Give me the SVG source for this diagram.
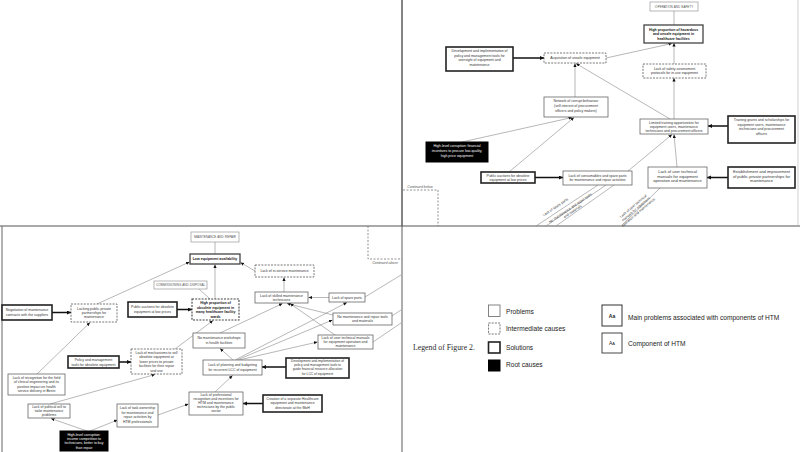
<svg xmlns="http://www.w3.org/2000/svg" width="800" height="452" viewBox="0 0 800 452">
<style>
text{font-family:"Liberation Sans",Arial,sans-serif;font-size:3.5px;fill:#333;text-anchor:middle}
.b{font-weight:bold;fill:#111}
.sc{font-variant:small-caps;font-size:3.6px;fill:#555}
.w{fill:#fff}
.it{font-style:italic;fill:#555;font-size:3.4px}
.p{fill:#fff;stroke:#666;stroke-width:0.8}
.ic{fill:#fff;stroke:#555;stroke-width:0.8;stroke-dasharray:2 1.2}
.icm{fill:#fff;stroke:#444;stroke-width:1.1;stroke-dasharray:2 1.2}
.s{fill:#fff;stroke:#222;stroke-width:1.6}
.r{fill:#000;stroke:#000}
.m{fill:#fff;stroke:#444;stroke-width:1.3}
.c{fill:#fff;stroke:#999;stroke-width:0.7}
.ln{fill:none;stroke:#888;stroke-width:0.6}
.la{fill:none;stroke:#888;stroke-width:0.6;marker-end:url(#a)}
.ta{fill:none;stroke:#111;stroke-width:1.5;marker-end:url(#ta)}
.dsh{fill:none;stroke:#777;stroke-width:0.8;stroke-dasharray:2 1.5}
.lg{font-size:6.6px;text-anchor:start;fill:#222}
.lt{font-family:"Liberation Serif","Times New Roman",serif;font-size:7.8px;text-anchor:start;fill:#2a2a2a}
</style>
<defs>
<marker id="a" markerUnits="userSpaceOnUse" markerWidth="4" markerHeight="4" refX="3.6" refY="1.6" orient="auto"><path d="M0,0 L3.6,1.6 L0,3.2 z" fill="#111"/></marker>
<marker id="ta" markerUnits="userSpaceOnUse" markerWidth="5" markerHeight="5" refX="4" refY="2" orient="auto"><path d="M0,0 L4,2 L0,4 z" fill="#111"/></marker>
</defs>

<g id="frame">
<line x1="402" y1="0" x2="402" y2="226" stroke="#333" stroke-width="1.2"/>
<line x1="402" y1="226" x2="402" y2="452" stroke="#999" stroke-width="1.6"/>
<line x1="0" y1="226" x2="800" y2="226" stroke="#555" stroke-width="1.2"/>
<line x1="2" y1="226" x2="2" y2="452" stroke="#666" stroke-width="1"/>
<line x1="798" y1="0" x2="798" y2="226" stroke="#bbb" stroke-width="0.7"/>
<path class="dsh" d="M403,190 H438 V226"/>
<text class="it" x="420" y="187.5">Continued below</text>
<path class="dsh" d="M368,226 V259 H402"/>
<text class="it" x="385" y="264">Continued above</text>
</g>

<g id="connectors">
<line class="ln" x1="674" y1="11" x2="674" y2="25"/>
<line class="la" x1="674" y1="64" x2="674" y2="43"/>
<line class="la" x1="606" y1="58" x2="672" y2="43.5"/>
<line class="la" x1="674" y1="119" x2="674" y2="78"/>
<line class="la" x1="670" y1="119" x2="576" y2="63.5"/>
<line class="la" x1="575" y1="97" x2="575" y2="63.5"/>
<line class="ta" x1="513" y1="58" x2="544" y2="58"/>
<line class="la" x1="462" y1="142" x2="572" y2="117.5"/>
<line class="la" x1="509" y1="172" x2="574" y2="117.5"/>
<line class="ta" x1="535" y1="177.5" x2="563" y2="177.5"/>
<line class="la" x1="628" y1="171" x2="672" y2="134.5"/>
<line class="la" x1="677" y1="167" x2="674" y2="134.5"/>
<line class="ta" x1="728" y1="126" x2="708" y2="126"/>
<line class="ta" x1="728" y1="177.5" x2="707" y2="177.5"/>
<line class="ln" x1="598" y1="185" x2="536" y2="226"/>
<line class="ln" x1="606" y1="185" x2="546" y2="226"/>
<line class="ln" x1="614" y1="185" x2="556" y2="226"/>
<line class="ln" x1="660" y1="188" x2="621" y2="226"/>

<line class="ln" x1="215" y1="242" x2="215" y2="254"/>
<line class="la" x1="215" y1="299" x2="215" y2="264.5"/>
<line class="ln" x1="199" y1="289" x2="210" y2="299"/>
<line class="ta" x1="177" y1="309.5" x2="192" y2="309.5"/>
<line class="la" x1="97" y1="304" x2="189.5" y2="262"/>
<line class="ta" x1="52" y1="312.5" x2="71" y2="312.5"/>
<line class="la" x1="255" y1="271" x2="240.5" y2="262.5"/>
<line class="la" x1="284" y1="292" x2="284" y2="277.5"/>
<line class="la" x1="329" y1="297.5" x2="308.5" y2="297.5"/>
<line class="la" x1="333" y1="315" x2="287" y2="303.5"/>
<line class="la" x1="335" y1="335" x2="290" y2="303.5"/>
<line class="la" x1="220" y1="333" x2="282.5" y2="303.5"/>
<line class="la" x1="233" y1="360" x2="220" y2="348.5"/>
<line class="la" x1="235" y1="360" x2="347" y2="302.5"/>
<line class="la" x1="237" y1="360" x2="332.5" y2="320"/>
<line class="la" x1="239" y1="360" x2="317.5" y2="342"/>
<line class="la" x1="215" y1="392" x2="232.5" y2="375.5"/>
<line class="ta" x1="263" y1="403.5" x2="243" y2="403.5"/>
<line class="ta" x1="286" y1="367" x2="262" y2="367"/>
<line class="la" x1="175" y1="349" x2="213" y2="320.5"/>
<line class="ta" x1="119" y1="362" x2="131" y2="362"/>
<line class="la" x1="37" y1="374" x2="90" y2="322.5"/>
<line class="la" x1="50" y1="404" x2="155" y2="374.5"/>
<line class="la" x1="87" y1="431" x2="51" y2="418.5"/>
<line class="la" x1="90" y1="431" x2="117.5" y2="420"/>
<line class="la" x1="158" y1="415" x2="188.5" y2="404"/>
<line class="ln" x1="365" y1="297" x2="401" y2="275"/>
<line class="ln" x1="392" y1="316" x2="401" y2="310"/>
<line class="ln" x1="373" y1="342" x2="401" y2="323"/>
</g>

<g id="edge-labels">
<text transform="translate(556,208) rotate(-34)">Lack of spare parts</text>
<text transform="translate(571,209) rotate(-34)"><tspan x="0" y="0">No maintenance and repair tools</tspan><tspan x="0" y="4">and materials</tspan></text>
<text transform="translate(634,207) rotate(-40)"><tspan x="0" y="0">Lack of user technical</tspan><tspan x="0" y="4">manuals for equipment</tspan><tspan x="0" y="8">operation and maintenance</tspan></text>
</g>

<g id="n-operation"><rect class="c" x="650" y="2" width="48" height="9"/><text class="sc" x="674" y="7.8">Operation and Safety</text></g>
<g id="n-hazardous"><rect class="m" x="644" y="25" width="59" height="18"/><text class="b" x="673.5" y="30.5">High proportion of hazardous</text><text class="b" x="673.5" y="35">and unsafe equipment in</text><text class="b" x="673.5" y="39.5">healthcare facilities</text></g>
<g id="n-safety"><rect class="ic" x="643" y="64" width="63" height="14"/><text x="674.5" y="69.8">Lack of safety assessment</text><text x="674.5" y="74.3">protocols for in-use equipment</text></g>
<g id="n-acquisition"><rect class="ic" x="544" y="53" width="62" height="10"/><text x="575" y="59.3">Acquisition of unsafe equipment</text></g>
<g id="n-devpolicy"><rect class="s" x="446" y="47" width="67" height="24"/><text x="479.5" y="52.3">Development and implementation of</text><text x="479.5" y="56.8">policy and management tools for</text><text x="479.5" y="61.3">oversight of equipment and</text><text x="479.5" y="65.8">maintenance</text></g>
<g id="n-network"><rect class="p" x="544" y="97" width="64" height="20"/><text x="576" y="101.8">Network of corrupt behaviour</text><text x="576" y="106.8">(self-interest of procurement</text><text x="576" y="111.8">officers and policy makers)</text></g>
<g id="n-corruption1"><rect class="r" x="426" y="142" width="62" height="20"/><text class="w" x="457" y="147">High-level corruption: financial</text><text class="w" x="457" y="152">incentives to procure low-quality,</text><text class="w" x="457" y="157">high price equipment</text></g>
<g id="n-auctions1"><rect class="s" x="481" y="172" width="54" height="11"/><text x="508" y="176.6">Public auctions for obsolete</text><text x="508" y="180.6">equipment at low prices</text></g>
<g id="n-consumables"><rect class="p" x="563" y="171" width="69" height="14"/><text x="597.5" y="176.6">Lack of consumables and spare parts</text><text x="597.5" y="181.1">for maintenance and repair activities</text></g>
<g id="n-training"><rect class="p" x="640" y="119" width="68" height="15"/><text x="674" y="123.6">Limited training opportunities for</text><text x="674" y="127.6">equipment users, maintenance</text><text x="674" y="131.6">technicians and procurement officers</text></g>
<g id="n-manuals1"><rect class="p" x="648" y="167" width="59" height="21"/><text x="677.5" y="173.2" style="font-size:4px">Lack of user technical</text><text x="677.5" y="177.8" style="font-size:4px">manuals for equipment</text><text x="677.5" y="182.4" style="font-size:4px">operation and maintenance</text></g>
<g id="n-grants"><rect class="s" x="728" y="116" width="67" height="27"/><text x="761.5" y="121.2">Training grants and scholarships for</text><text x="761.5" y="125.7">equipment users, maintenance</text><text x="761.5" y="130.2">technicians and procurement</text><text x="761.5" y="134.7">officers</text></g>
<g id="n-ppp1"><rect class="s" x="728" y="167" width="67" height="21"/><text x="761.5" y="172.8" style="font-size:4px">Establishment and improvement</text><text x="761.5" y="177.6" style="font-size:4px">of public-private partnerships for</text><text x="761.5" y="182.4" style="font-size:4px">maintenance</text></g>

<g id="n-maintenance"><rect class="c" x="191" y="232" width="48" height="10"/><text class="sc" x="215" y="238.3">Maintenance and Repair</text></g>
<g id="n-availability"><rect class="m" x="190" y="254" width="50" height="10"/><text class="b" x="215" y="260.2">Low equipment availability</text></g>
<g id="n-commissioning"><rect class="c" x="154" y="281" width="53" height="8"/><text class="sc" x="180.5" y="286.3">Commissioning and Disposal</text></g>
<g id="n-auctions2"><rect class="s" x="128" y="302" width="49" height="15"/><text x="152.5" y="308.3">Public auctions for obsolete</text><text x="152.5" y="312.6">equipment at low prices</text></g>
<g id="n-obsolete"><rect class="icm" x="192" y="299" width="47" height="21"/><text class="b" x="215.5" y="304">High proportion of</text><text class="b" x="215.5" y="308.5">obsolete equipment in</text><text class="b" x="215.5" y="313">many healthcare facility</text><text class="b" x="215.5" y="317.5">wards</text></g>
<g id="n-ppp2"><rect class="ic" x="71" y="304" width="46" height="18"/><text x="94" y="309.6">Lacking public-private</text><text x="94" y="314">partnerships for</text><text x="94" y="318.4">maintenance</text></g>
<g id="n-negotiation"><rect class="s" x="2" y="305" width="50" height="15"/><text x="27" y="311.2">Negotiation of maintenance</text><text x="27" y="315.6">contracts with the suppliers</text></g>
<g id="n-inservice"><rect class="ic" x="255" y="265" width="59" height="12"/><text x="284.5" y="272">Lack of in-service maintenance</text></g>
<g id="n-skilled"><rect class="p" x="255" y="292" width="53" height="11"/><text x="281.5" y="296.6">Lack of skilled maintenance</text><text x="281.5" y="300.6">technicians</text></g>
<g id="n-spare"><rect class="p" x="329" y="293" width="36" height="9"/><text x="347" y="298.8">Lack of spare parts</text></g>
<g id="n-tools"><rect class="p" x="333" y="313" width="59" height="12"/><text x="362.5" y="318.2">No maintenance and repair tools</text><text x="362.5" y="322.3">and materials</text></g>
<g id="n-manuals2"><rect class="p" x="318" y="335" width="55" height="14"/><text x="345.5" y="339.3">Lack of user technical manuals</text><text x="345.5" y="343.3">for equipment operation and</text><text x="345.5" y="347.3">maintenance</text></g>
<g id="n-workshops"><rect class="p" x="193" y="333" width="52" height="15"/><text x="219" y="339">No maintenance workshops</text><text x="219" y="343.5">in health facilities</text></g>
<g id="n-planning"><rect class="p" x="203" y="360" width="59" height="15"/><text x="232.5" y="366">Lack of planning and budgeting</text><text x="232.5" y="370.5">for recurrent LCC of equipment</text></g>
<g id="n-devlcc"><rect class="s" x="286" y="358" width="63" height="20"/><text x="317.5" y="362.3" style="font-size:3.3px">Development and implementation of</text><text x="317.5" y="366.3" style="font-size:3.3px">policy and management tools to</text><text x="317.5" y="370.3" style="font-size:3.3px">guide financial resource allocation</text><text x="317.5" y="374.6" style="font-size:3.3px">for LCC of equipment</text></g>
<g id="n-recognition2"><rect class="p" x="189" y="392" width="54" height="23"/><text x="216" y="396">Lack of professional</text><text x="216" y="400.1">recognition and incentives for</text><text x="216" y="404.2">HTM and maintenance</text><text x="216" y="408.3">technicians by the public</text><text x="216" y="412.4">sector</text></g>
<g id="n-directorate"><rect class="s" x="263" y="395" width="59" height="17"/><text x="292.5" y="400">Creation of a separate Healthcare</text><text x="292.5" y="404.4">equipment and maintenance</text><text x="292.5" y="408.8">directorate at the MoH</text></g>
<g id="n-mechanisms"><rect class="ic" x="131" y="349" width="51" height="25"/><text x="156.5" y="353.6">Lack of mechanisms to sell</text><text x="156.5" y="358.1">obsolete equipment at</text><text x="156.5" y="362.6">lower prices to private</text><text x="156.5" y="367.1">facilities for their repair</text><text x="156.5" y="371.6">and use</text></g>
<g id="n-policyobs"><rect class="s" x="68" y="356" width="51" height="12"/><text x="93.5" y="361.2">Policy and management</text><text x="93.5" y="365.6">tools for obsolete equipment</text></g>
<g id="n-recognition1"><rect class="p" x="8" y="374" width="57" height="21"/><text x="36.5" y="378.6">Lack of recognition for the field</text><text x="36.5" y="383.1">of clinical engineering and its</text><text x="36.5" y="387.6">positive impact on health</text><text x="36.5" y="392.1">service delivery in Benin</text></g>
<g id="n-political"><rect class="p" x="28" y="404" width="42" height="14"/><text x="49" y="408.3">Lack of political will to</text><text x="49" y="412.3">tailor maintenance</text><text x="49" y="416.3">problems</text></g>
<g id="n-ownership"><rect class="p" x="117" y="404" width="41" height="23"/><text x="137.5" y="409">Lack of task ownership</text><text x="137.5" y="413.6">for maintenance and</text><text x="137.5" y="418.2">repair activities by</text><text x="137.5" y="422.8">HTM professionals</text></g>
<g id="n-corruption2"><rect class="r" x="60" y="431" width="48" height="20"/><text class="w" x="84" y="435.6">High-level corruption:</text><text class="w" x="84" y="440">income competition to</text><text class="w" x="84" y="444.4">technicians, better to buy</text><text class="w" x="84" y="448.8">than repair</text></g>

<g id="legend">
<text class="lt" x="413" y="350">Legend of Figure 2.</text>
<rect class="p" x="488.5" y="305" width="11.5" height="11.5" stroke="#555"/>
<text class="lg" x="506" y="313.5">Problems</text>
<rect class="ic" x="488.5" y="323" width="11.5" height="11" stroke-width="1"/>
<text class="lg" x="506" y="331">Intermediate causes</text>
<rect class="s" x="488.5" y="342" width="11.5" height="11"/>
<text class="lg" x="506" y="350">Solutions</text>
<rect class="r" x="488.5" y="360" width="11.5" height="11"/>
<text class="lg" x="506" y="366.5">Root causes</text>
<rect x="602" y="305" width="20" height="21" fill="#fff" stroke="#333" stroke-width="1"/>
<text x="612" y="317.5" style="font-size:5px;font-weight:bold;fill:#222">Aa</text>
<text class="lg" x="628" y="320">Main problems associated with components of HTM</text>
<rect x="602" y="333" width="20" height="20" fill="#fff" stroke="#333" stroke-width="0.9"/>
<text x="612" y="345" style="font-size:5px;font-variant:small-caps;fill:#222">Aa</text>
<text class="lg" x="628" y="345.5">Component of HTM</text>
</g>
</svg>
